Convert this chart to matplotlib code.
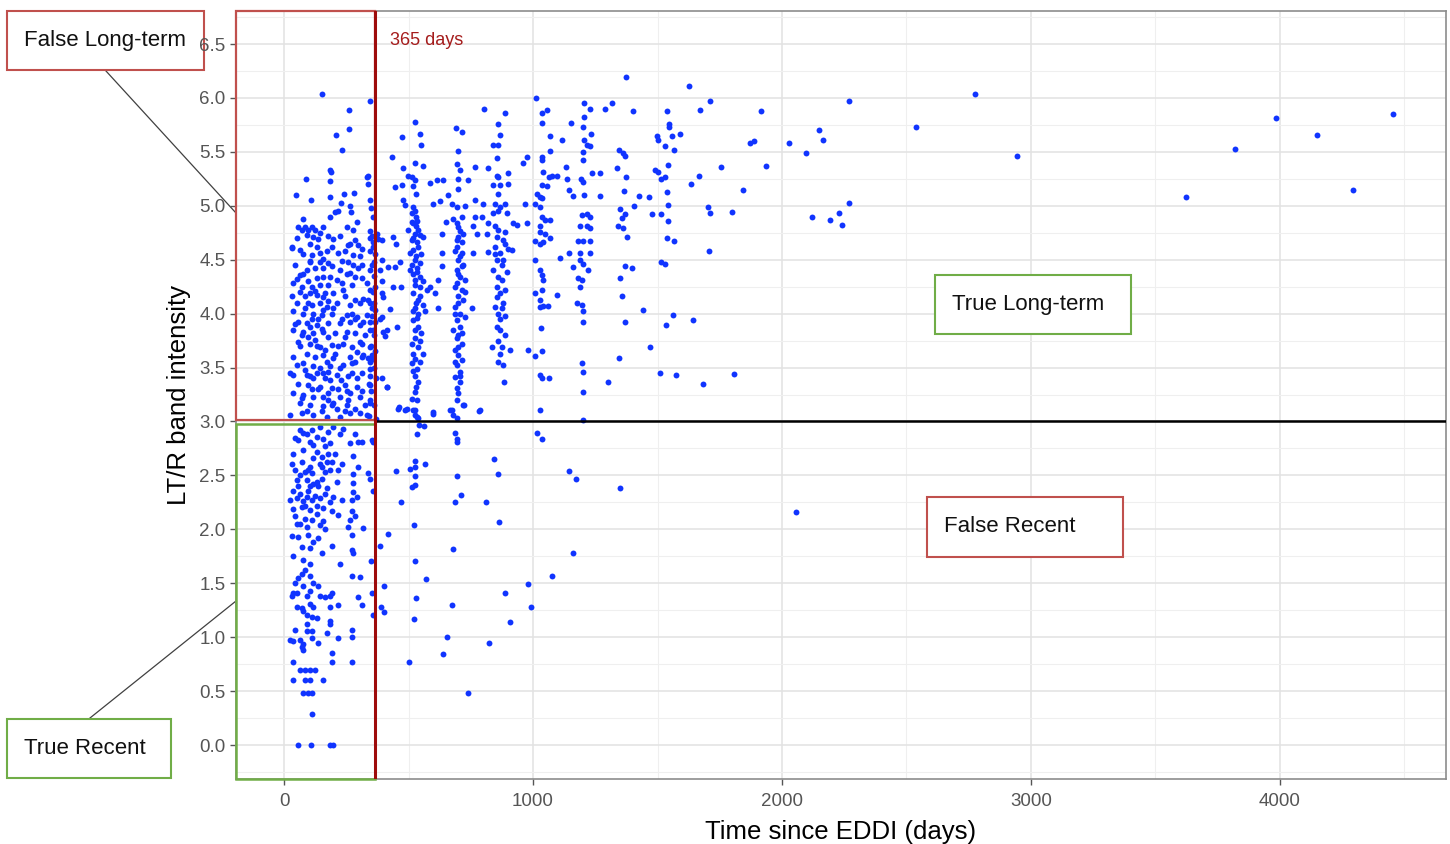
import matplotlib
matplotlib.use("Agg")
import matplotlib.pyplot as plt
from matplotlib.patches import Rectangle
from matplotlib.lines import Line2D
from matplotlib.ticker import MultipleLocator, FormatStrFormatter

# ---- data: (days since EDDI, LT/R band intensity) ----
block_upper = [
    (151, 6.04), (345, 5.97), (262, 5.89), (262, 5.71), (208, 5.66), (233, 5.52), (183, 5.33),
    (187, 5.31), (87, 5.25), (185, 5.23), (336, 5.28), (339, 5.20), (47, 5.10), (186, 5.08),
    (110, 5.05), (242, 5.11), (280, 5.12), (229, 5.03), (265, 5.00), (351, 4.98), (78, 4.88),
    (185, 4.90), (205, 4.94), (218, 4.95), (269, 4.94), (58, 4.80), (84, 4.80), (111, 4.80),
    (158, 4.80), (292, 4.85), (345, 5.05), (358, 4.90), (332, 5.27), (252, 4.80), (278, 4.78),
    (345, 4.77), (71, 4.78), (98, 4.78), (124, 4.78), (91, 4.73), (118, 4.71), (138, 4.69),
    (198, 4.69), (345, 4.70), (358, 4.66), (265, 4.65), (299, 4.64), (104, 4.65), (31, 4.62),
    (64, 4.59), (111, 4.54), (145, 4.56), (191, 4.62), (218, 4.56), (258, 4.64), (278, 4.54),
    (305, 4.53), (345, 4.58), (232, 4.49), (158, 4.51), (104, 4.49), (31, 4.61), (352, 4.72),
    (358, 4.62), (365, 4.55), (362, 4.48), (355, 4.45),
    (78, 4.55), (131, 4.62), (171, 4.58), (245, 4.58), (312, 4.60), (285, 4.68), (178, 4.72),
    (225, 4.72), (51, 4.70), (145, 4.75),
]

block_middle = [
    (104, 4.48), (145, 4.48), (178, 4.47), (258, 4.48), (278, 4.45), (299, 4.42), (345, 4.40),
    (78, 4.37), (158, 4.42), (64, 4.36), (37, 4.28), (98, 4.30), (131, 4.33), (158, 4.34),
    (185, 4.34), (212, 4.31), (252, 4.37), (285, 4.34), (312, 4.33), (71, 4.25), (111, 4.25),
    (145, 4.27), (178, 4.27), (232, 4.28), (272, 4.27), (345, 4.22), (104, 4.19), (198, 4.19),
    (31, 4.16), (84, 4.16), (131, 4.17), (165, 4.19), (245, 4.16), (285, 4.13), (319, 4.14),
    (339, 4.13), (51, 4.10), (111, 4.08), (145, 4.10), (171, 4.06), (212, 4.10), (265, 4.08),
    (305, 4.10), (345, 4.10), (158, 4.03), (37, 4.02), (78, 4.00), (118, 4.00), (151, 3.99),
    (191, 4.00), (252, 3.99), (292, 3.97), (332, 3.99), (365, 4.03), (58, 3.92), (91, 3.91),
    (131, 3.89), (178, 3.91), (225, 3.91), (265, 3.92), (305, 3.89), (345, 3.92), (37, 3.85),
    (78, 3.83), (118, 3.82), (158, 3.83), (205, 3.82), (252, 3.83), (285, 3.82), (325, 3.80),
    (345, 3.85), (58, 3.74), (104, 3.72), (145, 3.69), (191, 3.71), (238, 3.72), (272, 3.69),
    (305, 3.74), (345, 3.69), (37, 3.60), (91, 3.63), (124, 3.60), (158, 3.62), (205, 3.63),
    (265, 3.60), (319, 3.62), (339, 3.59), (78, 3.54), (118, 3.51), (185, 3.51), (238, 3.52),
    (272, 3.54), (345, 3.49), (178, 3.46), (37, 3.43), (91, 3.43), (131, 3.45), (165, 3.40),
    (212, 3.43), (258, 3.42), (312, 3.45), (345, 3.42), (58, 3.35), (98, 3.34), (145, 3.32),
    (191, 3.31), (245, 3.34), (292, 3.32), (345, 3.34), (37, 3.26), (78, 3.25), (118, 3.23),
    (178, 3.26), (225, 3.23), (265, 3.26), (305, 3.23), (345, 3.20), (64, 3.17), (104, 3.15),
    (158, 3.14), (198, 3.17), (252, 3.15), (285, 3.12), (345, 3.17), (305, 3.08), (24, 3.06),
    (71, 3.08), (118, 3.06), (171, 3.04), (225, 3.04), (265, 3.08), (332, 3.06),
    (98, 3.78), (125, 3.76), (165, 3.66), (118, 3.40), (138, 3.30), (171, 3.55), (151, 3.86),
    (111, 3.95), (84, 4.05), (124, 4.21), (178, 4.12), (218, 3.70), (232, 3.95), (285, 3.95),
    (292, 3.64), (358, 3.58), (352, 3.62), (360, 3.80), (355, 3.98), (358, 4.20), (362, 4.35),
    (350, 3.28), (340, 3.05), (230, 3.38), (198, 3.59), (145, 3.50), (84, 3.48), (64, 3.70),
    (44, 3.90), (51, 4.32), (24, 3.45), (158, 3.23), (191, 3.15), (252, 3.28), (272, 3.45),
    (312, 3.72), (365, 4.25), (360, 4.10), (352, 4.05), (365, 3.92), (358, 3.85), (350, 3.70),
    (365, 3.65), (345, 3.55), (362, 3.50), (368, 3.40), (340, 3.35), (360, 3.15), (368, 3.02),
    (44, 4.45), (91, 4.40), (124, 4.42), (191, 4.44), (225, 4.40), (265, 4.38), (312, 4.45),
    (332, 4.28), (238, 4.22), (158, 4.15), (98, 4.10), (64, 4.20), (198, 4.05), (272, 4.00),
    (319, 3.92), (138, 3.95), (104, 3.88), (245, 3.78), (178, 3.78), (71, 3.80), (131, 3.70),
    (312, 3.60), (285, 3.55), (225, 3.50), (158, 3.45), (104, 3.42), (51, 3.52), (185, 3.38),
    (292, 3.40), (218, 3.30), (111, 3.30), (71, 3.22), (258, 3.20), (312, 3.28), (151, 3.10),
    (211, 3.12), (91, 3.10), (325, 3.15), (178, 3.20), (245, 3.10),
]

block_lower = [
    (64, 2.92), (78, 2.89), (111, 2.92), (145, 2.95), (178, 2.90), (198, 2.95), (58, 2.83),
    (104, 2.81), (158, 2.84), (185, 2.80), (265, 2.80), (299, 2.81), (352, 2.83), (312, 2.81),
    (37, 2.70), (78, 2.74), (131, 2.72), (178, 2.70), (278, 2.68), (31, 2.61), (71, 2.62),
    (104, 2.58), (145, 2.61), (191, 2.62), (232, 2.61), (299, 2.58), (84, 2.53), (111, 2.52),
    (165, 2.53), (185, 2.55), (339, 2.52), (345, 2.47), (278, 2.51), (51, 2.46), (91, 2.46),
    (131, 2.44), (212, 2.44), (278, 2.43), (37, 2.36), (64, 2.33), (98, 2.36), (124, 2.31),
    (165, 2.33), (198, 2.30), (359, 2.36), (278, 2.35), (24, 2.27), (51, 2.29), (78, 2.26),
    (111, 2.27), (145, 2.29), (232, 2.27), (272, 2.27), (37, 2.19), (71, 2.21), (104, 2.18),
    (158, 2.20), (191, 2.17), (272, 2.17), (218, 2.13), (44, 2.12), (84, 2.10), (111, 2.09),
    (265, 2.09), (285, 2.12), (91, 2.02), (145, 2.04), (258, 2.02), (319, 2.01), (31, 1.94),
    (58, 1.93), (138, 1.92), (272, 1.95), (71, 1.84), (104, 1.83), (191, 1.85), (37, 1.75),
    (78, 1.72), (104, 1.68), (225, 1.68), (272, 1.81), (278, 1.78), (349, 1.71), (71, 1.59),
    (104, 1.57), (272, 1.57), (305, 1.56), (44, 1.50), (78, 1.47), (118, 1.50), (138, 1.47),
    (191, 1.41), (352, 1.41), (37, 1.41), (91, 1.38),
    (91, 2.88), (131, 2.86), (165, 2.77), (118, 2.66), (151, 2.67), (98, 2.55), (138, 2.40),
    (118, 2.42), (171, 2.38), (64, 2.50), (84, 2.22), (131, 2.14), (158, 2.08), (64, 2.05),
    (185, 2.25), (104, 2.40), (151, 2.47), (218, 2.55), (205, 2.70), (225, 2.88), (238, 2.93),
    (285, 2.88), (292, 2.30), (356, 2.81),
    (44, 2.85), (118, 2.78), (151, 2.58), (171, 2.62), (58, 2.40), (91, 2.30), (131, 2.22),
    (51, 2.05), (98, 1.95), (118, 1.88), (84, 1.62), (58, 1.55), (151, 1.78), (165, 2.00),
    (44, 2.55),
    (31, 1.38), (51, 1.41), (104, 1.43), (145, 1.38), (165, 1.37), (185, 1.38), (299, 1.37),
    (312, 1.30), (359, 1.21), (51, 1.28), (71, 1.27), (78, 1.24), (104, 1.31), (118, 1.28),
    (185, 1.28), (218, 1.30), (91, 1.21), (111, 1.19), (131, 1.18), (185, 1.15), (185, 1.12),
    (91, 1.12), (44, 1.07), (91, 1.06), (111, 1.06), (171, 1.04), (272, 1.07), (272, 1.00),
    (218, 0.99), (24, 0.97), (37, 0.96), (64, 0.97), (78, 0.94), (111, 0.99), (138, 0.95),
    (71, 0.91), (78, 0.88), (37, 0.77), (191, 0.85), (191, 0.77), (272, 0.77), (64, 0.70),
    (84, 0.70), (104, 0.70), (124, 0.70), (37, 0.60), (84, 0.60), (104, 0.60), (158, 0.60),
    (78, 0.48), (98, 0.48), (111, 0.48), (111, 0.29), (55, 0.0), (110, 0.0), (183, 0.0),
    (195, 0.0),
]

near_400_500 = [
    (379, 4.69), (372, 4.74), (386, 4.40), (392, 4.30), (399, 4.15), (386, 3.95), (412, 3.85),
    (392, 3.40), (412, 3.32), (399, 3.83), (406, 3.79), (415, 3.32), (432, 5.45), (473, 5.64),
    (477, 5.35), (446, 5.17), (473, 5.19), (479, 5.05), (486, 5.01), (439, 4.71), (450, 4.65),
    (419, 4.43), (446, 4.43), (466, 4.48), (439, 4.25), (469, 4.25), (426, 4.04), (453, 3.88),
    (459, 3.12), (486, 3.11), (392, 4.68), (392, 4.50), (392, 4.19), (392, 3.97),
]

near_530 = [
    (526, 5.78), (546, 5.67), (549, 5.56), (526, 5.40), (559, 5.37), (499, 5.28), (513, 5.27),
    (526, 5.24), (519, 5.18), (530, 5.11), (519, 4.99), (513, 4.93), (530, 4.90),
    (519, 4.84), (530, 4.81), (499, 4.78), (526, 4.74), (546, 4.73), (513, 4.68), (533, 4.66),
    (519, 4.59), (506, 4.56), (526, 4.50), (513, 4.45), (533, 4.42), (519, 4.37), (546, 4.34),
    (526, 4.31), (559, 4.30), (546, 4.25), (573, 4.22), (519, 4.19), (539, 4.13), (559, 4.08),
    (526, 4.05), (539, 4.00), (519, 3.94), (539, 3.88), (552, 3.82), (526, 3.77), (513, 3.72),
    (539, 3.69), (519, 3.63), (559, 3.63), (513, 3.54), (533, 3.49), (526, 3.42), (530, 3.32),
    (513, 3.21), (533, 3.20), (519, 3.11), (533, 3.04), (526, 4.95), (533, 4.86), (519, 4.70),
    (539, 4.62), (530, 4.53), (546, 4.47), (533, 4.39), (526, 4.27), (546, 4.16), (530, 4.10),
    (519, 4.02), (533, 3.96), (526, 3.85), (546, 3.75), (526, 3.58), (519, 3.47), (539, 3.37),
    (526, 3.27), (539, 4.78), (513, 4.85), (506, 4.40), (552, 4.55), (566, 4.02), (546, 3.55),
    (559, 4.71), (633, 4.74), (633, 4.56), (633, 4.44), (620, 4.31), (620, 4.05), (586, 4.25),
    (606, 4.19), (600, 3.09),
]

near_700 = [
    (691, 5.72), (714, 5.68), (698, 5.51), (696, 5.39), (707, 5.33), (698, 5.25), (740, 5.24),
    (698, 5.16), (660, 5.10), (673, 5.02), (693, 4.99), (727, 5.00), (652, 4.85), (680, 4.88),
    (693, 4.84), (707, 4.77), (720, 4.74), (700, 4.71), (714, 4.66), (693, 4.62), (714, 4.56),
    (700, 4.50), (720, 4.45), (693, 4.40), (707, 4.34), (727, 4.31), (687, 4.25), (714, 4.22),
    (700, 4.16), (720, 4.13), (687, 4.06), (707, 4.00), (727, 3.97), (693, 3.94), (707, 3.88),
    (680, 3.85), (714, 3.82), (693, 3.77), (700, 3.69), (687, 3.66), (714, 3.57), (693, 3.52),
    (707, 3.46), (687, 3.41), (707, 3.37), (693, 3.31), (700, 3.26), (693, 3.20), (720, 3.15),
    (673, 3.11), (700, 4.80), (693, 4.68), (707, 4.53), (700, 4.37), (693, 4.28), (714, 4.44),
    (700, 4.10), (687, 4.00), (700, 3.80), (714, 3.72), (700, 3.62), (687, 3.55), (707, 3.42),
    (714, 4.90), (687, 4.58), (727, 4.20), (640, 5.24), (613, 5.24), (586, 5.21), (600, 5.02),
    (627, 5.04), (767, 5.05), (800, 5.02), (767, 5.36), (820, 5.35), (787, 3.11), (760, 4.81),
    (767, 4.90), (774, 4.74), (760, 4.56), (754, 4.05),
]

near_870 = [
    (803, 5.90), (888, 5.86), (861, 5.76), (867, 5.66), (841, 5.56), (861, 5.56), (854, 5.44),
    (854, 5.28), (861, 5.27), (901, 5.30), (841, 5.19), (867, 5.19), (901, 5.20), (861, 5.11),
    (847, 5.02), (888, 5.02), (867, 4.99), (841, 4.93), (894, 4.93), (821, 4.84), (847, 4.81),
    (861, 4.78), (888, 4.76), (854, 4.71), (881, 4.68), (847, 4.62), (901, 4.60), (867, 4.56),
    (914, 4.59), (854, 4.50), (881, 4.50), (841, 4.40), (894, 4.39), (861, 4.34), (874, 4.31),
    (854, 4.25), (888, 4.22), (867, 4.19), (847, 4.06), (874, 4.05), (861, 4.00), (888, 3.98),
    (854, 3.88), (867, 3.85), (888, 3.80), (861, 3.75), (874, 3.69), (908, 3.66), (867, 3.63),
    (861, 3.55), (881, 3.52), (884, 3.37), (834, 3.69), (934, 4.82), (975, 4.84), (921, 4.84),
    (794, 4.90), (814, 4.74), (821, 4.57), (861, 4.95), (874, 4.45), (854, 4.15), (881, 4.10),
    (867, 3.95), (847, 4.55), (888, 4.65),
]

near_1030 = [
    (1012, 6.00), (1035, 5.86), (1055, 5.89), (1035, 5.77), (1068, 5.51), (1035, 5.45),
    (1035, 5.42), (975, 5.45), (961, 5.40), (1041, 5.31), (1066, 5.27), (1075, 5.28),
    (1095, 5.28), (1035, 5.19), (1055, 5.18), (1015, 5.11), (1028, 5.08), (1035, 5.07),
    (1008, 5.02), (1028, 4.99), (968, 5.02), (1035, 4.90), (1048, 4.87), (1068, 4.87),
    (1028, 4.81), (1028, 4.76), (1048, 4.74), (1068, 4.70), (1008, 4.67), (1028, 4.65),
    (1041, 4.66), (1008, 4.50), (1028, 4.40), (1035, 4.36), (1039, 4.31), (1035, 4.22),
    (1008, 4.19), (1028, 4.13), (1041, 4.07), (1061, 4.07), (1028, 4.06), (1032, 3.87),
    (1038, 3.65), (1008, 3.61), (981, 3.66), (1028, 3.43), (1035, 3.40), (1066, 3.40),
    (1028, 3.11),
]

near_1200 = [
    (1205, 5.95), (1229, 5.90), (1205, 5.82), (1199, 5.73), (1231, 5.67), (1205, 5.61),
    (1216, 5.56), (1229, 5.55), (1199, 5.50), (1199, 5.42), (1238, 5.30), (1269, 5.30),
    (1191, 5.25), (1199, 5.22), (1205, 5.10), (1269, 5.09), (1146, 5.15), (1159, 5.09),
    (1133, 5.36), (1138, 5.25), (1196, 4.91), (1216, 4.92), (1229, 4.90), (1189, 4.81),
    (1216, 4.81), (1229, 4.79), (1182, 4.67), (1202, 4.67), (1229, 4.67), (1189, 4.56),
    (1229, 4.56), (1146, 4.56), (1159, 4.43), (1108, 4.52), (1189, 4.50), (1202, 4.46),
    (1222, 4.40), (1182, 4.33), (1196, 4.31), (1189, 4.25), (1178, 4.10), (1196, 4.08),
    (1199, 4.02), (1199, 3.92), (1196, 3.54), (1199, 3.46), (1199, 3.27), (1098, 4.17),
    (1115, 5.61), (1068, 5.65), (1151, 5.77), (1289, 5.90), (1319, 5.95),
]

after_1300 = [
    (1372, 6.19), (1400, 5.88), (1347, 5.52), (1363, 5.49), (1369, 5.46), (1337, 5.35),
    (1373, 5.27), (1365, 5.14), (1349, 4.97), (1369, 4.92), (1356, 4.89), (1343, 4.81),
    (1363, 4.79), (1376, 4.71), (1369, 4.44), (1396, 4.42), (1349, 4.33), (1359, 4.16),
    (1369, 3.92), (1347, 3.59), (1406, 5.00), (1424, 5.09), (1466, 5.08), (1303, 3.37),
    (1540, 5.88), (1545, 5.76), (1548, 5.73), (1557, 5.65), (1590, 5.67), (1496, 5.65),
    (1503, 5.61), (1530, 5.55), (1567, 5.52), (1490, 5.33), (1500, 5.31), (1516, 5.25),
    (1530, 5.27), (1544, 5.38), (1540, 5.13), (1542, 5.01), (1476, 4.92), (1516, 4.92),
    (1544, 4.86), (1540, 4.70), (1566, 4.67), (1516, 4.48), (1530, 4.46), (1564, 3.99),
    (1534, 3.89), (1440, 4.03), (1470, 3.69), (1510, 3.45), (1573, 3.43),
    (1627, 6.11), (1711, 5.97), (1671, 5.89), (1916, 5.88), (2268, 5.97), (1871, 5.58),
    (1889, 5.60), (2028, 5.58), (2149, 5.70), (2166, 5.61), (2096, 5.49), (1936, 5.37),
    (1754, 5.36), (1667, 5.28), (1635, 5.20), (1845, 5.15), (1701, 4.99), (1711, 4.93),
    (1798, 4.94), (2122, 4.90), (2193, 4.87), (2227, 4.93), (2243, 4.82), (2268, 5.03),
    (1707, 4.58), (1644, 3.94), (1684, 3.35), (1807, 3.44),
    (2774, 6.04), (2540, 5.73), (2943, 5.46), (3621, 5.08), (3819, 5.53), (3984, 5.81),
    (4150, 5.66), (4294, 5.15), (4454, 5.85),
]

below_cutoff_late = [
    (463, 3.13), (492, 3.12), (526, 3.11), (526, 3.06), (539, 3.03), (543, 2.97), (563, 2.96),
    (533, 2.88), (600, 3.07), (667, 3.11), (677, 3.06), (693, 3.03), (687, 2.89), (693, 2.84),
    (696, 2.81), (724, 3.15), (784, 3.10), (526, 2.63), (526, 2.58), (566, 2.61), (506, 2.56),
    (526, 2.49), (448, 2.54), (512, 2.39), (526, 2.41), (693, 2.49), (845, 2.65), (861, 2.51),
    (469, 2.25), (687, 2.25), (710, 2.32), (811, 2.25), (865, 2.07), (522, 2.04), (677, 1.82),
    (526, 1.71), (570, 1.54), (888, 1.41), (528, 1.36), (673, 1.30), (523, 1.17), (909, 1.14),
    (656, 1.00), (823, 0.95), (637, 0.84), (501, 0.77), (740, 0.48), (419, 1.96), (387, 1.85),
    (402, 1.47), (388, 1.28), (402, 1.23), (1017, 2.89), (1035, 2.84), (1075, 1.57),
    (979, 1.49), (990, 1.28), (1145, 2.54), (1173, 2.47), (1159, 1.78), (1348, 2.38),
    (2058, 2.16), (1202, 3.01),
]

cutoff_days = 365
cutoff_ltr = 3.0

boxes = [
    # label, edge colour, (left, top, right, bottom) in figure pixels
    ("False Long-term", "#C0504D", (7, 11, 204, 70)),
    ("True Recent", "#70AD47", (7, 719, 171, 778)),
    ("True Long-term", "#70AD47", (935, 275, 1131, 334)),
    ("False Recent", "#C0504D", (927, 497, 1123, 557)),
]

plt.rcParams["font.family"] = ["Liberation Sans", "DejaVu Sans"]

W, H = 1450, 844
fig = plt.figure(figsize=(W / 100, H / 100), dpi=100)
ax = fig.add_axes([236 / W, 1 - 779 / H, 1210 / W, 768 / H])

all_pts = (block_upper + block_middle + block_lower + near_400_500 + near_530 + near_700
           + near_870 + near_1030 + near_1200 + after_1300 + below_cutoff_late)
xs = [p[0] for p in all_pts]
ys = [p[1] for p in all_pts]
ax.scatter(xs, ys, s=18, color="#1034FF", linewidths=0, zorder=3)

xmin, xmax = -193, 4667
ymin, ymax = -0.315, 6.806
ax.set_xlim(xmin, xmax)
ax.set_ylim(ymin, ymax)

ax.xaxis.set_major_locator(MultipleLocator(1000))
ax.xaxis.set_minor_locator(MultipleLocator(500))
ax.yaxis.set_major_locator(MultipleLocator(0.5))
ax.yaxis.set_minor_locator(MultipleLocator(0.25))
ax.yaxis.set_major_formatter(FormatStrFormatter("%.1f"))

ax.grid(which="major", color="#E2E2E2", lw=1.1)
ax.grid(which="minor", color="#EFEFEF", lw=0.8)
ax.set_axisbelow(True)
ax.tick_params(which="major", length=4, width=1, color="#555555",
               labelcolor="#555555", labelsize=13.5)
ax.tick_params(axis="x", pad=6)
ax.tick_params(which="minor", length=0)
for sp in ax.spines.values():
    sp.set_color("#8C8C8C")
    sp.set_linewidth(1.2)

ax.set_xlabel("Time since EDDI (days)", fontsize=18.5, labelpad=7)
ax.set_ylabel("LT/R band intensity", fontsize=18.5, labelpad=6)

# classification lines and regions
ax.hlines(cutoff_ltr, cutoff_days, xmax, color="black", lw=1.8, zorder=4)
ax.add_patch(Rectangle((xmin, cutoff_ltr + 0.012), cutoff_days - xmin, ymax - cutoff_ltr - 0.012,
                       fill=False, edgecolor="#C0504D", lw=1.6, clip_on=False, zorder=4))
ax.add_patch(Rectangle((xmin, ymin), cutoff_days - xmin, cutoff_ltr - 0.025 - ymin,
                       fill=False, edgecolor="#70AD47", lw=1.8, clip_on=False, zorder=4))
ax.axvline(cutoff_days, color="#9E0B0B", lw=2.2, zorder=5)
ax.text(cutoff_days + 59, 6.53, "365 days", color="#A51C1C", fontsize=13,
        ha="left", va="center")

# text boxes (figure pixel geometry), drawn beneath the axes so tick labels stay on top
def fx(px):
    return px / W

def fy(py):
    return 1 - py / H

fig.add_artist(Line2D([fx(106), fx(236)], [fy(71), fy(213)], color="#404040", lw=0.9,
                      zorder=-2))
fig.add_artist(Line2D([fx(90), fx(236)], [fy(718), fy(601)], color="#404040", lw=0.9,
                      zorder=-2))

for label, col, (l, t, r, b) in boxes:
    inside = l > 236
    z = 10 if inside else -1
    fig.add_artist(Rectangle((fx(l), fy(b)), fx(r) - fx(l), fy(t) - fy(b),
                             transform=fig.transFigure, facecolor="white",
                             edgecolor=col, lw=1.5, zorder=z))
    fig.text(fx(l + 17), fy((t + b) / 2), label, fontsize=16, color="#111111",
             ha="left", va="center", zorder=z + 0.5)

fig.savefig("out.png", dpi=100)
